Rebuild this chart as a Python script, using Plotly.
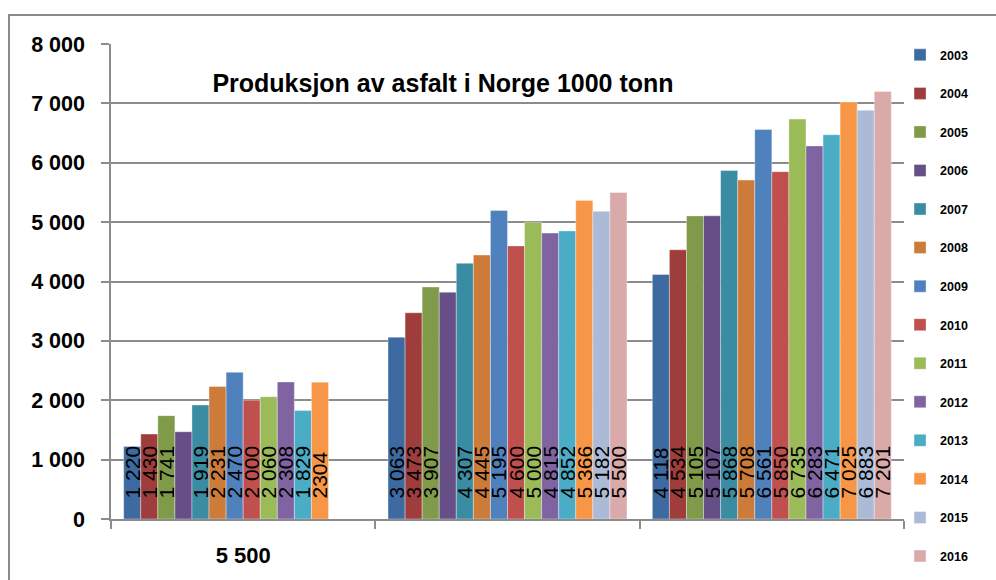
import plotly.graph_objects as go

# ---- data ----
categories = ["g1", "g2", "g3"]
category_labels = ["5 500", "", ""]
years = ["2003", "2004", "2005", "2006", "2007", "2008", "2009",
         "2010", "2011", "2012", "2013", "2014", "2015", "2016"]

v2003 = [1220, 3063, 4118]
v2004 = [1430, 3473, 4534]
v2005 = [1741, 3907, 5105]
v2006 = [1470, 3820, 5107]
v2007 = [1919, 4307, 5868]
v2008 = [2231, 4445, 5708]
v2009 = [2470, 5195, 6561]
v2010 = [2000, 4600, 5850]
v2011 = [2060, 5000, 6735]
v2012 = [2308, 4815, 6283]
v2013 = [1829, 4852, 6471]
v2014 = [2304, 5366, 7025]
v2015 = [None, 5182, 6883]
v2016 = [None, 5500, 7201]

t2003 = ["1 220", "3 063", "4 118"]
t2004 = ["1 430", "3 473", "4 534"]
t2005 = ["1 741", "3 907", "5 105"]
t2006 = ["", "", "5 107"]
t2007 = ["1 919", "4 307", "5 868"]
t2008 = ["2 231", "4 445", "5 708"]
t2009 = ["2 470", "5 195", "6 561"]
t2010 = ["2 000", "4 600", "5 850"]
t2011 = ["2 060", "5 000", "6 735"]
t2012 = ["2 308", "4 815", "6 283"]
t2013 = ["1 829", "4 852", "6 471"]
t2014 = ["2304", "5 366", "7 025"]
t2015 = ["", "5 182", "6 883"]
t2016 = ["", "5 500", "7 201"]

values = [v2003, v2004, v2005, v2006, v2007, v2008, v2009,
          v2010, v2011, v2012, v2013, v2014, v2015, v2016]
labels = [t2003, t2004, t2005, t2006, t2007, t2008, t2009,
          t2010, t2011, t2012, t2013, t2014, t2015, t2016]

colors = ["#3D6AA1", "#9E3D3B", "#7F9A48", "#664F87", "#3A8CA3", "#CC7B38",
          "#4F81BD", "#C0504D", "#9BBB59", "#8064A2", "#4BACC6", "#F79646",
          "#AABAD7", "#D9AAA9"]

title_text = "Produksjon av asfalt i Norge 1000 tonn"

FONT = "Liberation Sans, Arial, sans-serif"

fig = go.Figure()
for yr, vals, txt, col in zip(years, values, labels, colors):
    fig.add_trace(go.Bar(
        name=yr, x=categories, y=vals, text=txt,
        texttemplate="\u00a0\u00a0\u00a0%{text}",
        marker=dict(color=col, line=dict(width=0.6, color="rgba(255,255,255,0.6)")),
        textposition="inside", insidetextanchor="start", textangle=-90,
        constraintext="none",
        insidetextfont=dict(family=FONT, size=21, color="black"),
        legendgroup=yr, hoverinfo="skip",
    ))

fig.update_layout(
    width=996, height=580,
    margin=dict(l=111, r=92, t=44, b=59),
    paper_bgcolor="white", plot_bgcolor="white",
    barmode="group", bargap=0.096, bargroupgap=0,
    showlegend=True,
    legend=dict(x=0.995, xanchor="left", y=1.008, yanchor="top",
                font=dict(family=FONT, size=12.5, color="black", weight="bold"),
                tracegroupgap=19.3, itemwidth=30, bgcolor="rgba(0,0,0,0)",
                maxheight=575),
    title=dict(text=title_text, x=443 / 996, xanchor="center",
               y=1 - 83 / 580, yanchor="middle",
               font=dict(family=FONT, size=25, color="black", weight="bold")),
    font=dict(family=FONT, color="black"),
    separators=", ",
)

fig.update_yaxes(
    range=[0, 8000], dtick=1000, tickformat=",d",
    showgrid=True, gridcolor="#8c8c8c", gridwidth=1.5,
    showline=True, linecolor="#8c8c8c", linewidth=1.5,
    ticks="outside", ticklen=8, tickcolor="#8c8c8c", tickwidth=1.5,
    ticklabelstandoff=12,
    tickfont=dict(family=FONT, size=21.5, color="black", weight="bold"),
    zeroline=False,
)
fig.update_xaxes(
    type="category", tickvals=categories, ticktext=category_labels,
    tickson="boundaries", ticks="outside", ticklen=8,
    tickcolor="#8c8c8c", tickwidth=1.5,
    showline=True, linecolor="#8c8c8c", linewidth=1.5,
    showgrid=False, ticklabelstandoff=16,
    tickfont=dict(family=FONT, size=22, color="black", weight="bold"),
)

# outer chart border (extends past the picture on the right and bottom)
fig.add_shape(type="rect", xref="paper", yref="paper",
              x0=(9 - 111) / 793, x1=1.3, y0=-0.3, y1=(521 - 15) / 477,
              line=dict(color="#8a8a8a", width=2), fillcolor="rgba(0,0,0,0)",
              layer="below")

fig.write_html("out.html", config={"displayModeBar": False},
               post_script="document.body.style.margin='0';")
